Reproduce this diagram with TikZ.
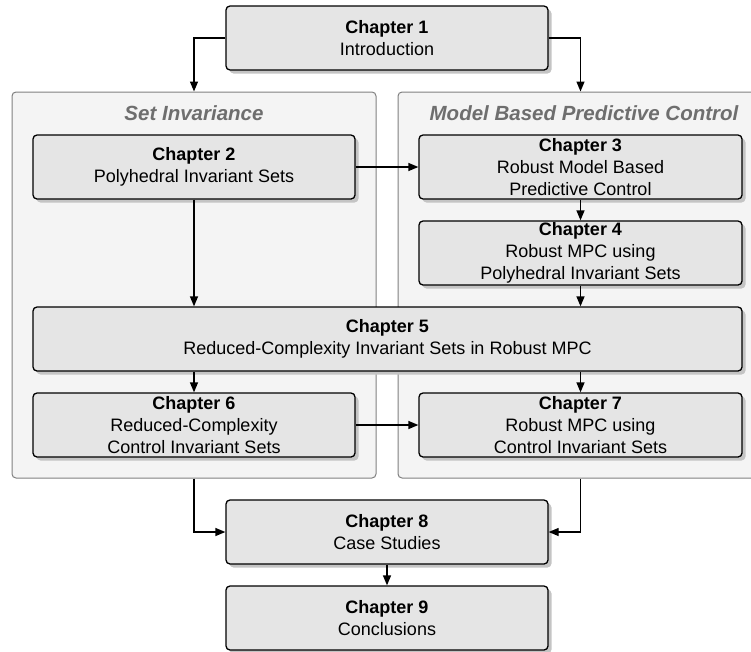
\documentclass[tikz,border=0pt]{standalone}
\usepackage{fontspec}
\setmainfont{Liberation Sans}
\usetikzlibrary{arrows.meta,shadows}
\definecolor{boxfill}{HTML}{E5E5E5}
\definecolor{panelfill}{HTML}{F4F4F4}
\definecolor{panelline}{HTML}{808080}
\definecolor{titlegray}{HTML}{6E6E6E}
\definecolor{shadowgray}{HTML}{C4C4C4}
\begin{document}
\begin{tikzpicture}[x=1pt,y=-1pt,
  chapbox/.style={draw=black,line width=1.3pt,fill=boxfill,rounded corners=4pt,
    align=center,inner sep=0pt,minimum height=64pt,
    font=\fontsize{18}{22}\selectfont,
    drop shadow={shadow xshift=3.5pt,shadow yshift=-3.5pt,fill=shadowgray,opacity=1}},
  panel/.style={draw=panelline,line width=1pt,fill=panelfill,rounded corners=4pt,inner sep=0pt},
  paneltitle/.style={text=titlegray,font=\fontsize{20.5}{24}\selectfont\bfseries\itshape},
  link/.style={line width=1.3pt,-{Triangle[length=10pt,width=8pt]}}
]
\useasboundingbox (0,0) rectangle (751,651);
% panels
\node[panel,minimum width=364pt,minimum height=386pt] (pL) at (194,285) {};
\node[panel,minimum width=365pt,minimum height=386pt] (pR) at (580.5,285) {};
\node[paneltitle,anchor=base] (tL) at (194,120) {Set Invariance};
\node[paneltitle,anchor=base] (tR) at (584,120) {Model Based Predictive Control};
% chapters
\node[chapbox,minimum width=322pt] (c1) at (387,38) {\textbf{Chapter 1}\\Introduction};
\node[chapbox,minimum width=322pt] (c2) at (194,167) {\textbf{Chapter 2}\\Polyhedral Invariant Sets};
\node[chapbox,minimum width=323pt] (c3) at (580.5,167) {\textbf{Chapter 3}\\Robust Model Based\\Predictive Control};
\node[chapbox,minimum width=323pt] (c4) at (580.5,253) {\textbf{Chapter 4}\\Robust MPC using\\Polyhedral Invariant Sets};
\node[chapbox,minimum width=709pt] (c5) at (387.5,339) {\textbf{Chapter 5}\\Reduced-Complexity Invariant Sets in Robust MPC};
\node[chapbox,minimum width=322pt] (c6) at (194,425) {\textbf{Chapter 6}\\Reduced-Complexity\\Control Invariant Sets};
\node[chapbox,minimum width=323pt] (c7) at (580.5,425) {\textbf{Chapter 7}\\Robust MPC using\\Control Invariant Sets};
\node[chapbox,minimum width=322pt] (c8) at (387,532) {\textbf{Chapter 8}\\Case Studies};
\node[chapbox,minimum width=322pt] (c9) at (387,618) {\textbf{Chapter 9}\\Conclusions};
% connectors
\draw[link] (c1.west) -| (pL.north);
\draw[link] (c1.east) -| (pR.north);
\draw[link] (c2.east) -- (c3.west);
\draw[link] (c3.south) -- (c4.north);
\draw[link] (c4.south) -- (c4.south |- c5.north);
\draw[link] (c2.south) -- (c2.south |- c5.north);
\draw[link] (c6.north |- c5.south) -- (c6.north);
\draw[link] (c7.north |- c5.south) -- (c7.north);
\draw[link] (c6.east) -- (c7.west);
\draw[link] (pL.south) |- (c8.west);
\draw[link] (pR.south) |- (c8.east);
\draw[link] (c8.south) -- (c9.north);
\end{tikzpicture}
\end{document}
